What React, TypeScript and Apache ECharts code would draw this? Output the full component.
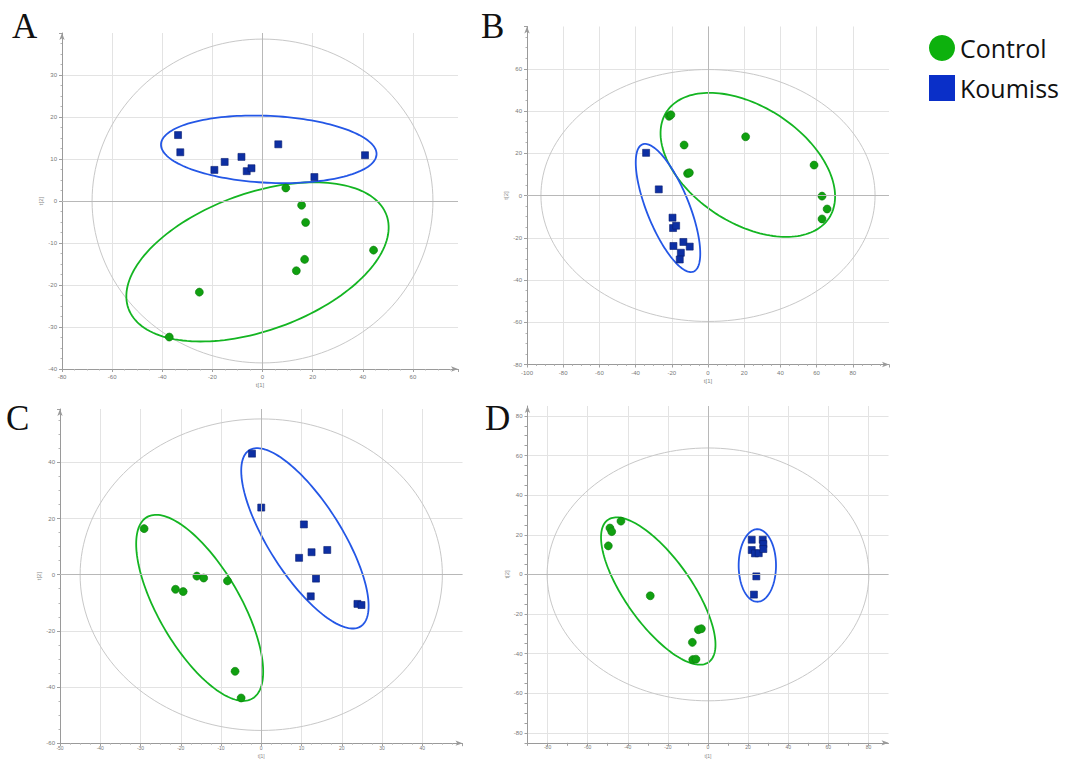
import React, { useEffect, useRef } from 'react';
import * as echarts from 'echarts';

// ---------- data (score values) ----------
const controlA = [[9.3, 3.1], [15.6, -1.0], [17.2, -5.1], [16.8, -13.9], [13.5, -16.6], [44.3, -11.7], [-25.2, -21.7], [-37.2, -32.4]];
const koumissA = [[-33.7, 15.7], [-32.8, 11.6], [-19.2, 7.4], [-15.1, 9.3], [-8.4, 10.5], [-6.3, 7.1], [-4.4, 7.8], [6.3, 13.5], [20.7, 5.7], [40.9, 10.9]];

const controlB = [[-21.5, 37.5], [-20.5, 38.2], [-13.2, 23.9], [-11.3, 10.4], [-10.3, 10.8], [20.8, 27.8], [58.6, 14.4], [63.0, -0.3], [65.8, -6.4], [63.0, -11.1]];
const koumissB = [[-34.2, 20.2], [-27.2, 2.9], [-19.6, -10.5], [-19.3, -15.4], [-17.6, -14.3], [-13.6, -22.0], [-19.1, -23.9], [-10.1, -24.2], [-15.0, -27.1], [-15.6, -30.3]];

const controlC = [[-29.1, 16.4], [-21.3, -5.2], [-19.4, -6.0], [-16.0, -0.5], [-14.3, -1.2], [-8.4, -2.2], [-6.5, -34.4], [-5.0, -43.9]];
const koumissC = [[-2.3, 43.1], [0, 23.9], [10.6, 17.9], [9.4, 6.0], [12.5, 8.0], [16.4, 8.8], [13.6, -1.4], [12.3, -7.7], [23.9, -10.4], [24.9, -10.8]];

const controlD = [[-43.4, 26.9], [-48.9, 23.4], [-48.0, 21.6], [-49.7, 14.4], [-28.8, -10.8], [-4.8, -27.9], [-3.3, -27.4], [-7.8, -34.3], [-7.6, -43.0], [-6.0, -42.8]];
const koumissD = [[21.8, 17.5], [27.3, 17.5], [27.6, 15.3], [21.8, 12.3], [23.4, 10.6], [25.3, 10.7], [27.6, 12.8], [24.1, -1.0], [22.9, -10.2]];

// ellipses: [centerX, centerY, majorAxisEndX, majorAxisEndY, minor/major ratio]
const t2A = [0, 0, 68, 0, 0.95];
const ellControlA = [-2, -14.5, 49.5, -3.4, 0.5];
const ellKoumissA = [2.5, 12.3, 45.5, 11.07, 0.31];

const t2B = [0, 0, 92.3, 0, 0.754];
const ellControlB = [22, 14.5, 66.9, -10.6, 0.6];
const ellKoumissB = [-22.1, -5.9, -8, -36, 0.31];

const t2C = [0, 0, 45, 0, 0.86];
const ellControlC = [-15.3, -11.8, -2.2, -44.1, 0.39];
const ellKoumissC = [10.85, 12.95, 24.7, -18.4, 0.35];

const t2D = [0, 0, 80.2, 0, 0.786];
const ellControlD = [-24.8, -8.4, 0.35, -44.3, 0.38];
const ellKoumissD = [24.6, 4.5, 24.6, 22.8, 0.515];

// axis ranges / tick labelling
const axesA = { x: { min: -80, max: 78, interval: 20, step: 20 }, y: { min: -40, max: 40, interval: 10, step: 10 } };
const axesB = { x: { min: -100, max: 100, interval: 20, step: 20 }, y: { min: -80, max: 80, interval: 20, step: 20 } };
const axesC = { x: { min: -50, max: 50, interval: 10, step: 10 }, y: { min: -60, max: 59, interval: 20, step: 20 } };
const axesD = { x: { min: -90, max: 90, interval: 10, step: 20 }, y: { min: -85, max: 85, interval: 5, step: 20 } };

const panelLabels = ['A', 'B', 'C', 'D'];
const groupNames = ['Control', 'Koumiss'];
const axisNames = ['t[1]', 't[2]'];

// ---------- styles ----------
const GREEN = '#10a010';
const BLUE = '#0d2fa3';
const GREEN_LINE = '#14b522';
const BLUE_LINE = '#2457e6';
const GRID = '#e3e3e3';

const layout = [
  { grid: { left: 62, top: 33, width: 396, height: 336 }, label: [12, 9], xName: { gap: 13, size: 6, margin: 5 } },
  { grid: { left: 527, top: 26.5, width: 362, height: 338 }, label: [481, 9], xName: { gap: 13, size: 6, margin: 5 } },
  { grid: { left: 60, top: 409, width: 402.5, height: 334.2 }, label: [6, 401], xName: { gap: 10.5, size: 5, margin: 2 } },
  { grid: { left: 527.5, top: 406, width: 361, height: 336.8 }, label: [485, 401], xName: { gap: 10.5, size: 5, margin: 2 } },
];

const panels = [
  { axes: axesA, control: controlA, koumiss: koumissA, t2: t2A, ec: ellControlA, ek: ellKoumissA },
  { axes: axesB, control: controlB, koumiss: koumissB, t2: t2B, ec: ellControlB, ek: ellKoumissB },
  { axes: axesC, control: controlC, koumiss: koumissC, t2: t2C, ec: ellControlC, ek: ellKoumissC },
  { axes: axesD, control: controlD, koumiss: koumissD, t2: t2D, ec: ellControlD, ek: ellKoumissD },
];

function splitColors(spec: any) {
  const every = Math.round(spec.step / spec.interval);
  if (every <= 1) return GRID;
  const arr: string[] = [];
  for (let i = 0; i < every; i++) {
    const v = spec.min + i * spec.interval;
    arr.push(v % spec.step === 0 ? GRID : 'transparent');
  }
  return arr;
}

function makeAxis(kind: 'x' | 'y', spec: any, gridIndex: number, nameGap: number, fontSize: number, margin: number) {
  return {
    type: 'value',
    gridIndex,
    min: spec.min,
    max: spec.max,
    interval: spec.interval,
    name: kind === 'x' ? axisNames[0] : axisNames[1],
    nameLocation: 'middle',
    nameGap,
    nameTextStyle: { fontSize, color: '#888' },
    axisLine: {
      show: true,
      onZero: false,
      symbol: ['none', 'arrow'],
      symbolSize: [4, 7],
      lineStyle: { color: '#9a9a9a', width: 1 },
    },
    axisTick: { show: true, length: 3, lineStyle: { color: '#a0a0a0' } },
    minorTick: { show: spec.step === spec.interval, splitNumber: 4, length: 1.5, lineStyle: { color: '#b5b5b5' } },
    axisLabel: {
      fontSize,
      color: '#777',
      margin,
      showMaxLabel: false,
      formatter: (v: number) => (Math.abs(v % spec.step) < 1e-9 ? String(v) : ''),
    },
    splitLine: { show: true, showMaxLine: false, lineStyle: { color: splitColors(spec), width: 1 } },
  };
}

function ellipseRenderer(color: string, width: number) {
  return (_params: any, api: any) => {
    const c = api.coord([api.value(0), api.value(1)]);
    const e = api.coord([api.value(2), api.value(3)]);
    const r = api.value(4);
    const ux = e[0] - c[0];
    const uy = e[1] - c[1];
    const vx = -uy * r;
    const vy = ux * r;
    const pts: number[][] = [];
    const n = 160;
    for (let i = 0; i <= n; i++) {
      const t = (i / n) * Math.PI * 2;
      pts.push([c[0] + ux * Math.cos(t) + vx * Math.sin(t), c[1] + uy * Math.cos(t) + vy * Math.sin(t)]);
    }
    return {
      type: 'polygon',
      silent: true,
      shape: { points: pts },
      style: { fill: 'none', stroke: color, lineWidth: width },
    };
  };
}

function buildOption() {
  const grids: any[] = [];
  const xAxes: any[] = [];
  const yAxes: any[] = [];
  const series: any[] = [];
  const graphics: any[] = [];

  panels.forEach((p, i) => {
    const L = layout[i];
    grids.push({ ...L.grid, containLabel: false, outerBoundsMode: 'none' });
    xAxes.push(makeAxis('x', p.axes.x, i, L.xName.gap, L.xName.size, L.xName.margin));
    yAxes.push(makeAxis('y', p.axes.y, i, 17, 6, 5));

    series.push({
      type: 'custom',
      name: 't2-' + i,
      xAxisIndex: i,
      yAxisIndex: i,
      z: 1,
      renderItem: ellipseRenderer('#c8c8c8', 1),
      data: [p.t2],
      markLine: {
        silent: true,
        symbol: ['none', 'none'],
        label: { show: false },
        lineStyle: { color: '#b8b8b8', width: 1, type: 'solid' },
        data: [{ xAxis: 0 }, { yAxis: 0 }],
      },
    });
    series.push({
      type: 'custom',
      name: 'ellC-' + i,
      xAxisIndex: i,
      yAxisIndex: i,
      z: 2,
      renderItem: ellipseRenderer(GREEN_LINE, 1.8),
      data: [p.ec],
    });
    series.push({
      type: 'custom',
      name: 'ellK-' + i,
      xAxisIndex: i,
      yAxisIndex: i,
      z: 2,
      renderItem: ellipseRenderer(BLUE_LINE, 1.8),
      data: [p.ek],
    });
    series.push({
      type: 'scatter',
      name: groupNames[0],
      xAxisIndex: i,
      yAxisIndex: i,
      z: 3,
      symbol: 'circle',
      symbolSize: 8,
      itemStyle: { color: GREEN, borderColor: '#0a7a0a', borderWidth: 0.6, opacity: 1 },
      data: p.control,
    });
    series.push({
      type: 'scatter',
      name: groupNames[1],
      xAxisIndex: i,
      yAxisIndex: i,
      z: 3,
      symbol: 'rect',
      symbolSize: 7,
      itemStyle: { color: BLUE, borderColor: '#0a1f70', borderWidth: 0.6, opacity: 1 },
      data: p.koumiss,
    });

    graphics.push({
      type: 'text',
      x: L.label[0],
      y: L.label[1],
      style: {
        text: panelLabels[i],
        font: '35px "Liberation Serif", "Times New Roman", serif',
        fill: '#111',
      },
    });
  });

  return {
    animation: false,
    backgroundColor: '#ffffff',
    grid: grids,
    xAxis: xAxes,
    yAxis: yAxes,
    series,
    graphic: graphics,
    tooltip: { show: false },
    legend: {
      orient: 'vertical',
      left: 929,
      top: 35,
      padding: 0,
      itemWidth: 26,
      itemHeight: 26,
      itemGap: 14,
      selectedMode: false,
      textStyle: { fontSize: 25, color: '#111', fontFamily: '"Open Sans", "Noto Sans", sans-serif' },
      data: [
        { name: groupNames[0], icon: 'circle', itemStyle: { color: '#0db10d', borderWidth: 0 } },
        { name: groupNames[1], icon: 'rect', itemStyle: { color: '#0a2fc8', borderWidth: 0 } },
      ],
    },
  };
}

export default function App() {
  const ref = useRef<HTMLDivElement>(null);
  useEffect(() => {
    if (!ref.current) return;
    const chart = echarts.init(ref.current, null, { renderer: 'svg' });
    chart.setOption(buildOption() as any);
    return () => chart.dispose();
  }, []);
  return (
    <div
      ref={ref}
      style={{ position: 'absolute', left: 0, top: 0, width: 1068, height: 759, background: '#fff' }}
    />
  );
}
